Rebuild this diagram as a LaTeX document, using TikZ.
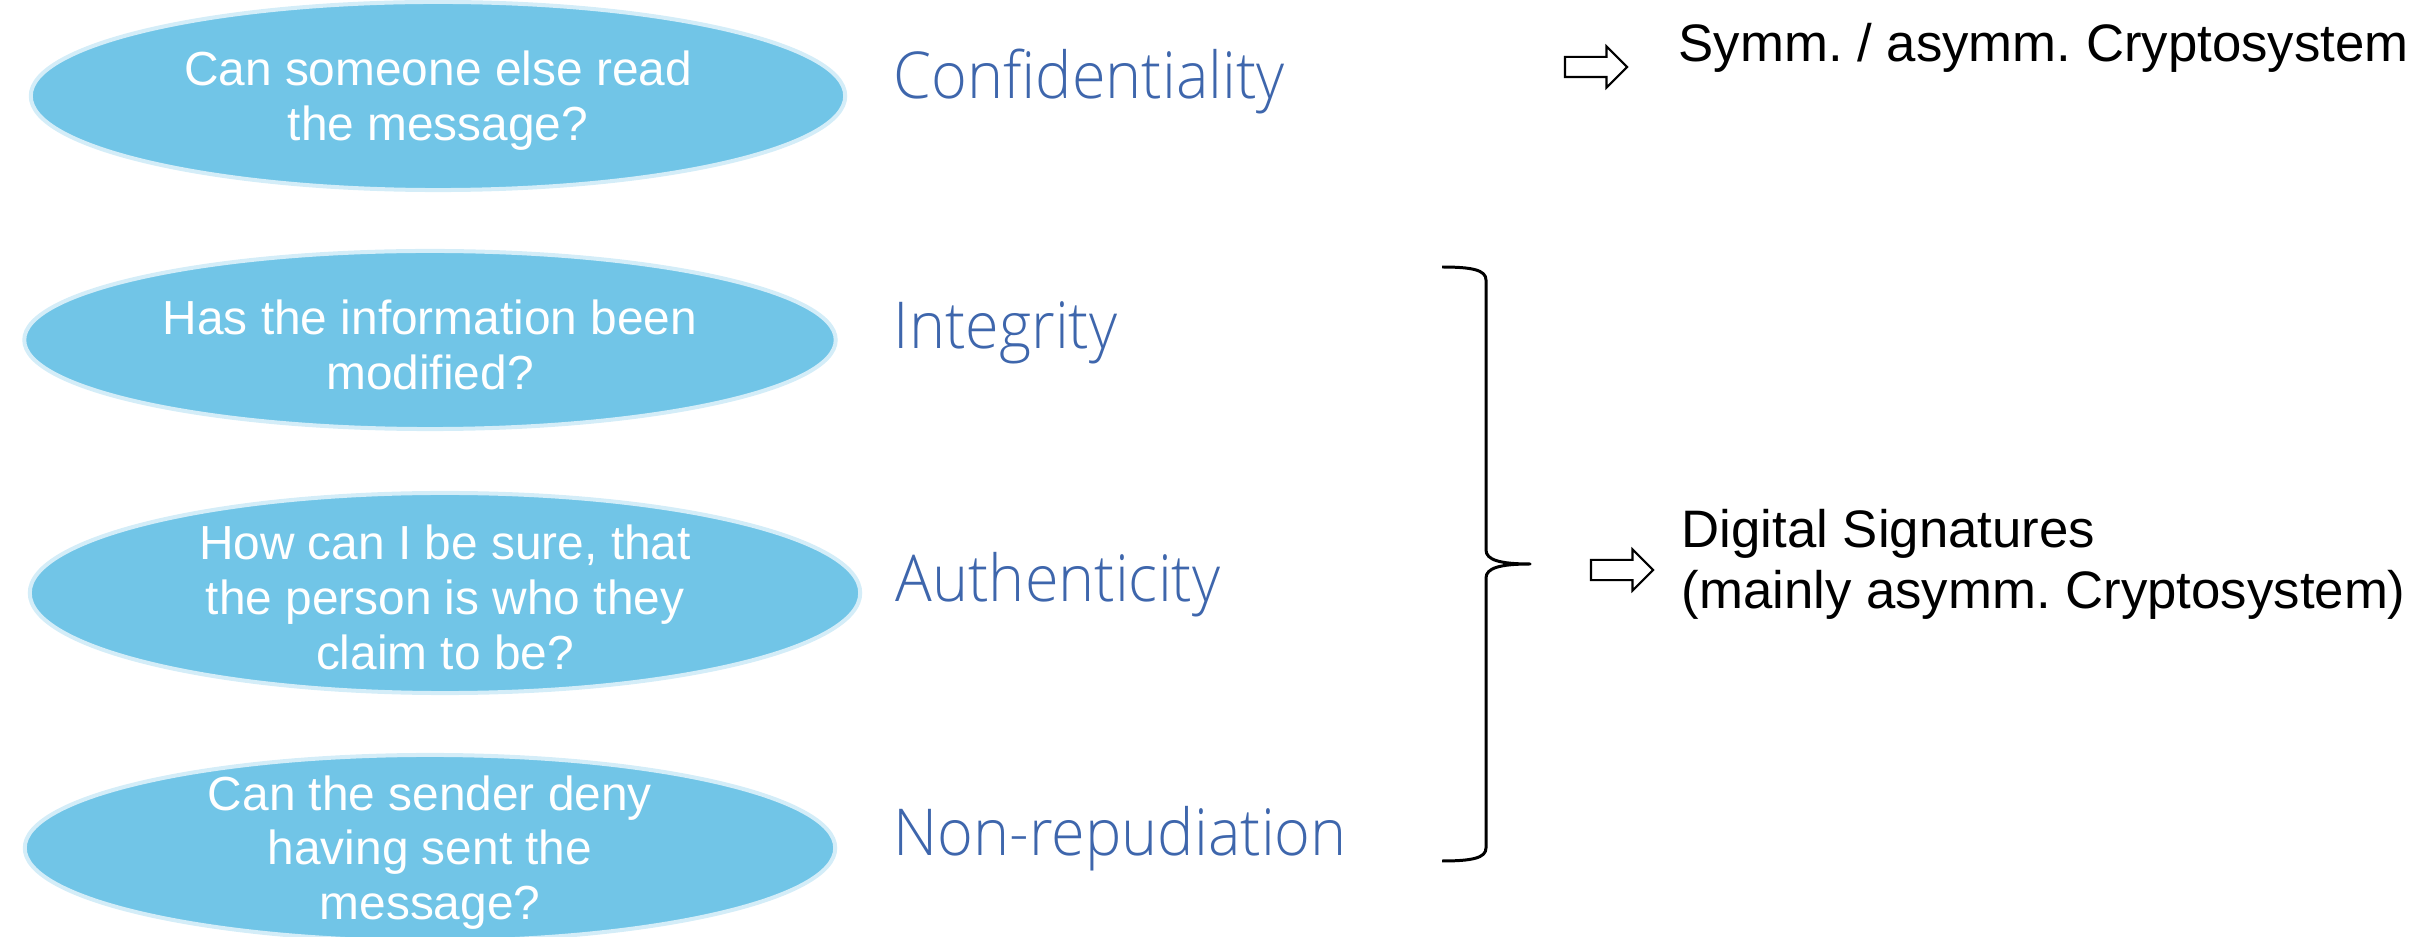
\documentclass[tikz,border=0pt]{standalone}
\usepackage{fontspec}
\setmainfont{Liberation Sans}
\newfontfamily\lblfont{Open Sans Light}[FakeStretch=0.945]
\usetikzlibrary{shapes.geometric,shapes.arrows}
\definecolor{bubblefill}{RGB}{113,197,231}
\definecolor{bubbleedge}{RGB}{212,237,248}
\definecolor{goalblue}{RGB}{62,102,172}
\frenchspacing
\begin{document}
\begin{tikzpicture}[x=0.01cm,y=-0.01cm,
  bubble/.style={ellipse, fill=bubblefill, draw=bubbleedge, line width=0.04cm, inner sep=0},
  qtext/.style={text=white, align=center, inner sep=0, yshift=-0.045cm, font=\fontsize{13.6}{15.6}\selectfont},
  goal/.style={anchor=base west, inner sep=0, text=goalblue, font=\lblfont\fontsize{18.4}{21}\selectfont},
  means/.style={anchor=base west, inner sep=0, font=\fontsize{15}{17.9}\selectfont},
  blockarrow/.style={single arrow, draw=black, fill=white, line width=0.6pt,
    minimum height=0.62cm, inner sep=0.09cm, single arrow head extend=0.105cm},
  bracket/.style={draw=black, line width=0.85pt, line join=round}
]
\useasboundingbox (0,0) rectangle (2426,937);

% question bubbles
\node[bubble, minimum width=8.14cm, minimum height=1.88cm] (q1) at (438,96) {};
\node[bubble, minimum width=8.11cm, minimum height=1.78cm] (q2) at (430,340) {};
\node[bubble, minimum width=8.30cm, minimum height=2.00cm] (q3) at (445,593) {};
\node[bubble, minimum width=8.10cm, minimum height=1.86cm] (q4) at (430,848) {};

\node[qtext] (t1) at (q1) {Can someone else read\\the message?};
\node[qtext] (t2) at (q2) {Has the information been\\modified?};
\node[qtext] (t3) at (q3) {How can I be sure, that\\the person is who they\\claim to be?};
\node[qtext] (t4) at (q4) {Can the sender deny\\having sent the\\message?};

% security goals
\node[goal] (g1) at (893,99) {Confidentiality};
\node[goal] (g2) at (893,349) {Integrity};
\node[goal] (g3) at (895,602) {Authenticity};
\node[goal] (g4) at (893,855) {Non-repudiation};

% brace grouping the last three goals
\coordinate (btop) at (1442,267);
\coordinate (btip) at (1530,564);
\coordinate (bbot) at (1442,861);
\draw[bracket] (btop) .. controls (1472,267) and (1486,270) .. (1486,280)
  -- (1486,550) .. controls (1486,560) and (1500,564) .. (btip)
  .. controls (1500,564) and (1486,568) .. (1486,578)
  -- (1486,848) .. controls (1486,858) and (1472,861) .. (bbot);

% outline arrows
\node[blockarrow] (a1) at (1591,67) {};
\node[blockarrow] (a2) at (1617,570) {};

% mechanisms
\node[means] (m1) at (1678,62) {Symm. / asymm. Cryptosystem};
\node[means] (m2) at (1681,548) {Digital Signatures};
\node[means] (m3) at (1681,609) {(mainly asymm. Cryptosystem)};
\end{tikzpicture}
\end{document}
